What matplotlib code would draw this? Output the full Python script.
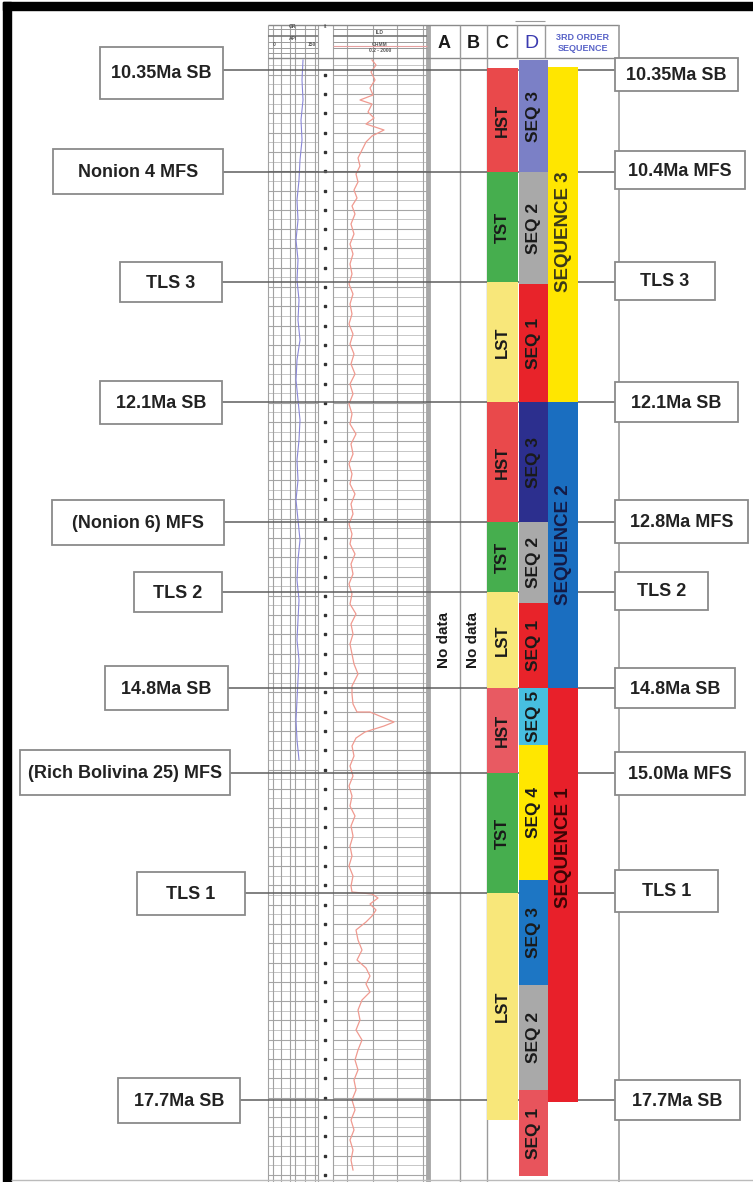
import matplotlib
matplotlib.use("Agg")
import matplotlib.pyplot as plt
from matplotlib.patches import Rectangle

plt.rcParams['font.family'] = ['Liberation Sans', 'DejaVu Sans']

W, H = 753, 1182

# ---------------- data ----------------
surface_depths = [70, 172, 282, 402, 522, 592, 688, 773, 893, 1100]
left_labels = ["10.35Ma SB", "Nonion 4 MFS", "TLS 3", "12.1Ma SB", "(Nonion 6) MFS",
               "TLS 2", "14.8Ma SB", "(Rich Bolivina 25) MFS", "TLS 1", "17.7Ma SB"]
right_labels = ["10.35Ma SB", "10.4Ma MFS", "TLS 3", "12.1Ma SB", "12.8Ma MFS",
                "TLS 2", "14.8Ma SB", "15.0Ma MFS", "TLS 1", "17.7Ma SB"]

# Column C: systems tracts
tract_names = ["HST", "TST", "LST", "HST", "TST", "LST", "HST", "TST", "LST"]
tract_tops = [68, 172, 282, 402, 522, 592, 688, 773, 893]
tract_bases = [172, 282, 402, 522, 592, 688, 773, 893, 1120]
tract_colors = ['#E9494B', '#46AE4E', '#F8E77A', '#E9494B', '#46AE4E', '#F8E77A',
                '#E85A62', '#46AE4E', '#F8E77A']

# Column D: 4th order sequences
seq4_names = ["SEQ 3", "SEQ 2", "SEQ 1", "SEQ 3", "SEQ 2", "SEQ 1",
              "SEQ 5", "SEQ 4", "SEQ 3", "SEQ 2", "SEQ 1"]
seq4_tops = [60, 172, 284, 402, 522, 603, 688, 745, 880, 985, 1090]
seq4_bases = [172, 284, 402, 522, 603, 688, 745, 880, 985, 1090, 1176]
seq4_colors = ['#7B80C6', '#A9A9A9', '#E8232A', '#2C2F8E', '#A9A9A9', '#E8232A',
               '#47BFE0', '#FFE700', '#1D76C4', '#A9A9A9', '#E8545C']

# 3rd order sequences
seq3_names = ["SEQUENCE 3", "SEQUENCE 2", "SEQUENCE 1"]
seq3_tops = [67, 402, 688]
seq3_bases = [402, 688, 1102]
seq3_label_depths = [232, 545, 848]
seq3_colors = ['#FFE600', '#1A6EC0', '#E8202A']
seq3_text_colors = ['#3a3a1a', '#141a45', '#3a0505']

# Well log curves (depth, reading in track position)
gr_depth = [60, 80, 100, 120, 140, 160, 180, 200, 220, 240, 260, 280, 300, 320, 340,
            360, 380, 400, 420, 440, 460, 480, 500, 520, 540, 560, 580, 600, 620, 640,
            660, 680, 700, 720, 740, 760]
gr_value = [303, 302, 303, 301, 302, 300, 299, 297, 298, 296, 298, 297, 299, 298, 300,
            297, 296, 298, 300, 299, 297, 298, 296, 298, 300, 298, 297, 299, 298, 297,
            299, 298, 297, 296, 297, 299]

res_depth = [60, 65, 72, 80, 88, 95, 100, 104, 112, 118, 124, 130, 136, 142, 150, 158,
             166, 174, 182, 190, 198, 206, 214, 224, 234, 244, 254, 264, 274, 284, 294,
             304, 314, 324, 334, 344, 354, 364, 374, 384, 394, 404, 414, 424, 434, 444,
             454, 464, 474, 484, 494, 504, 514, 524, 534, 544, 554, 564, 574, 584, 594,
             604, 614, 624, 634, 644, 654, 664, 674, 680, 686, 694, 704, 712, 712, 722,
             726, 732, 738, 746, 756, 766, 776, 786, 796, 806, 816, 826, 836, 846, 856,
             866, 876, 886, 892, 894, 898, 904, 910, 916, 922, 930, 940, 950, 960, 968,
             976, 984, 992, 1000, 1010, 1020, 1030, 1040, 1050, 1060, 1070, 1080, 1090,
             1100, 1110, 1120, 1130, 1140, 1150, 1160, 1170]
res_value = [372, 376, 371, 375, 370, 373, 360, 372, 368, 374, 366, 384, 372, 366, 362,
             358, 360, 356, 358, 354, 357, 352, 355, 351, 354, 350, 353, 350, 352, 349,
             353, 350, 352, 349, 353, 350, 354, 351, 355, 350, 353, 349, 352, 350, 356,
             351, 353, 349, 352, 350, 355, 351, 353, 349, 352, 350, 355, 351, 353, 349,
             352, 350, 356, 351, 353, 350, 352, 354, 358, 355, 352, 352, 353, 357, 370,
             394, 384, 365, 356, 352, 354, 350, 353, 349, 352, 350, 355, 351, 353, 350,
             352, 349, 353, 351, 352, 372, 378, 370, 376, 372, 366, 356, 358, 362, 357,
             366, 370, 366, 370, 362, 358, 360, 356, 362, 358, 355, 358, 354, 356, 352,
             355, 351, 354, 350, 353, 351, 353]

# ---------------- layout ----------------
left_box_x = [(100, 223), (53, 223), (120, 222), (100, 222), (52, 224), (134, 222),
              (105, 228), (20, 230), (137, 245), (118, 240)]
left_box_y = [(47, 99), (149, 194), (262, 302), (381, 424), (500, 545), (572, 612),
              (666, 710), (750, 795), (872, 915), (1078, 1123)]
right_box_x = [(615, 738), (615, 745), (615, 715), (615, 738), (615, 748), (615, 708),
               (615, 735), (615, 745), (615, 718), (615, 740)]
right_box_y = [(58, 91), (151, 189), (262, 300), (382, 422), (500, 543), (572, 610),
               (668, 708), (752, 795), (870, 912), (1080, 1120)]

C_X = (487.5, 518)
D_X = (519, 548.5)
S3_X = (548.5, 578)
HEAD_TOP, HEAD_BOT = 25, 58
FRAME_R = 619

fig = plt.figure(figsize=(W / 100, H / 100), dpi=100)
ax = fig.add_axes([0, 0, 1, 1])
ax.set_xlim(0, W)
ax.set_ylim(H, 0)
ax.axis('off')

# ---- outer black frame ----
ax.add_patch(Rectangle((3, 2), W - 3, 8, color='black', zorder=10))
ax.add_patch(Rectangle((3, 2), 8, H - 2, color='black', zorder=10))
ax.hlines(H - 2, 11, W, colors='#bbbbbb', lw=1, zorder=10)

# ---- log track grid ----
grid_step = 9.65
grid_y = [94 + grid_step * j for j in range(-3, 115) if 62 < 94 + grid_step * j < H]
major = grid_y[1::2]
minor = grid_y[0::2]
for x0, x1 in [(268, 318), (333, 427)]:
    ax.hlines(minor, x0, x1, colors='#c6c6c6', lw=0.7, zorder=1)
    ax.hlines(major, x0, x1, colors='#a6a6a6', lw=0.8, zorder=1)
ax.vlines([268, 273, 281, 290, 295, 305, 315, 318], HEAD_TOP, H, colors='#a2a2a2', lw=0.8, zorder=1)
ax.vlines([333, 347, 373, 397, 423], HEAD_TOP, H, colors='#a2a2a2', lw=0.8, zorder=1)
ax.vlines([428], HEAD_TOP, H, colors='#a8a8a8', lw=3.5, zorder=1)

# depth markers
depth_marks = [94 + 19.3 * k for k in range(-1, 57) if 94 + 19.3 * k < H - 4]
ax.plot([325.5] * len(depth_marks), depth_marks, 's', ms=2.0, color='#333333', zorder=2)

# log curves
ax.plot(gr_value, gr_depth, color='#8a88d8', lw=0.8, zorder=2)
ax.plot(res_value, res_depth, color='#f09a90', lw=0.9, zorder=2)

# ---- header ----
ax.hlines([HEAD_TOP, HEAD_BOT], 268, FRAME_R, colors='#8a8a8a', lw=1.0, zorder=1)
ax.hlines([29, 42, 48, 53], 268, 318, colors='#9a9a9a', lw=0.7, zorder=1)
ax.hlines([36], 268, 318, colors='#777777', lw=1.2, zorder=1)
ax.hlines([29, 42, 48], 333, 427, colors='#9a9a9a', lw=0.7, zorder=1)
ax.hlines([36], 333, 427, colors='#777777', lw=1.2, zorder=1)
ax.hlines([46], 333, 427, colors='#e6a0a0', lw=0.8, zorder=1)
hdr_kw = dict(ha='center', va='center', fontsize=3.5, color='#555555', fontweight='bold')
ax.text(293, 26.8, "GR", **hdr_kw)
ax.text(293, 39, "API", **hdr_kw)
ax.text(274, 45, "0", **hdr_kw)
ax.text(312, 45, "150", **hdr_kw)
ax.text(325.5, 27, "ft", **hdr_kw)
ax.text(380, 32, "ILD", **hdr_kw)
ax.text(380, 44, "OHMM", **hdr_kw)
ax.text(380, 51, "0.2 - 2000", **hdr_kw)

ax.vlines([460, 487], HEAD_TOP, H, colors='#9a9a9a', lw=1.0, zorder=1)
ax.vlines([517, 545], HEAD_TOP, HEAD_BOT, colors='#9a9a9a', lw=1.0, zorder=1)
ax.vlines([FRAME_R], HEAD_TOP, H, colors='#9a9a9a', lw=1.2, zorder=1)
ax.hlines([21], 515, 545, colors='#9a9a9a', lw=0.8, zorder=1)

let_kw = dict(ha='center', va='center', fontsize=13, fontweight='bold', color='#1a1a1a')
ax.text(444, 43, "A", **let_kw)
ax.text(473.5, 43, "B", **let_kw)
ax.text(502, 43, "C", **let_kw)
ax.text(531, 43, "D", ha='center', va='center', fontsize=14, color='#3b3bb0')
ax.text(583, 38, "3RD ORDER", ha='center', va='center', fontsize=6.5,
        fontweight='bold', color='#5a64c8')
ax.text(583, 48.5, "SEQUENCE", ha='center', va='center', fontsize=6.5,
        fontweight='bold', color='#5a64c8')

# ---- surfaces ----
for d, (lx0, lx1), (rx0, rx1) in zip(surface_depths, left_box_x, right_box_x):
    ax.hlines(d, lx1, rx0, colors='#5e5e5e', lw=1.1, zorder=2)

# ---- columns ----
for name, t, b, c in zip(tract_names, tract_tops, tract_bases, tract_colors):
    ax.add_patch(Rectangle((C_X[0], t), C_X[1] - C_X[0], b - t, facecolor=c,
                           edgecolor='none', zorder=3))
    ax.text((C_X[0] + C_X[1]) / 2, (t + b) / 2, name, rotation=90, ha='center',
            va='center', fontsize=12, fontweight='bold', color='#1a1a1a', zorder=4)

for name, t, b, c in zip(seq4_names, seq4_tops, seq4_bases, seq4_colors):
    ax.add_patch(Rectangle((D_X[0], t), D_X[1] - D_X[0], b - t, facecolor=c,
                           edgecolor='none', zorder=3))
    fs = 12.5 if b - t > 55 else 11.5
    ax.text((D_X[0] + D_X[1]) / 2, (t + b) / 2, name, rotation=90, ha='center',
            va='center', fontsize=fs, fontweight='bold', color='#1a1a1a', zorder=4)

for name, t, b, c, ly, tc in zip(seq3_names, seq3_tops, seq3_bases, seq3_colors,
                                 seq3_label_depths, seq3_text_colors):
    ax.add_patch(Rectangle((S3_X[0], t), S3_X[1] - S3_X[0], b - t, facecolor=c,
                           edgecolor='none', zorder=3))
    ax.text((S3_X[0] + S3_X[1]) / 2, ly, name, rotation=90, ha='center',
            va='center', fontsize=13.5, fontweight='bold', color=tc, zorder=4)

ax.text(444, 640, "No data", rotation=90, ha='center', va='center', fontsize=11,
        fontweight='bold', color='#1a1a1a', zorder=4)
ax.text(473.5, 640, "No data", rotation=90, ha='center', va='center', fontsize=11,
        fontweight='bold', color='#1a1a1a', zorder=4)

# ---- label boxes ----
def box(x0, x1, y0, y1, text):
    ax.add_patch(Rectangle((x0, y0), x1 - x0, y1 - y0, facecolor='white',
                           edgecolor='#8a8a8a', lw=1.3, zorder=5))
    ax.text((x0 + x1) / 2, (y0 + y1) / 2 + 1, text, ha='center', va='center',
            fontsize=13, fontweight='bold', color='#222222', zorder=6)

for (x0, x1), (y0, y1), t in zip(left_box_x, left_box_y, left_labels):
    box(x0, x1, y0, y1, t)
for (x0, x1), (y0, y1), t in zip(right_box_x, right_box_y, right_labels):
    box(x0, x1, y0, y1, t)

fig.savefig("out.png", dpi=100, facecolor='white')
